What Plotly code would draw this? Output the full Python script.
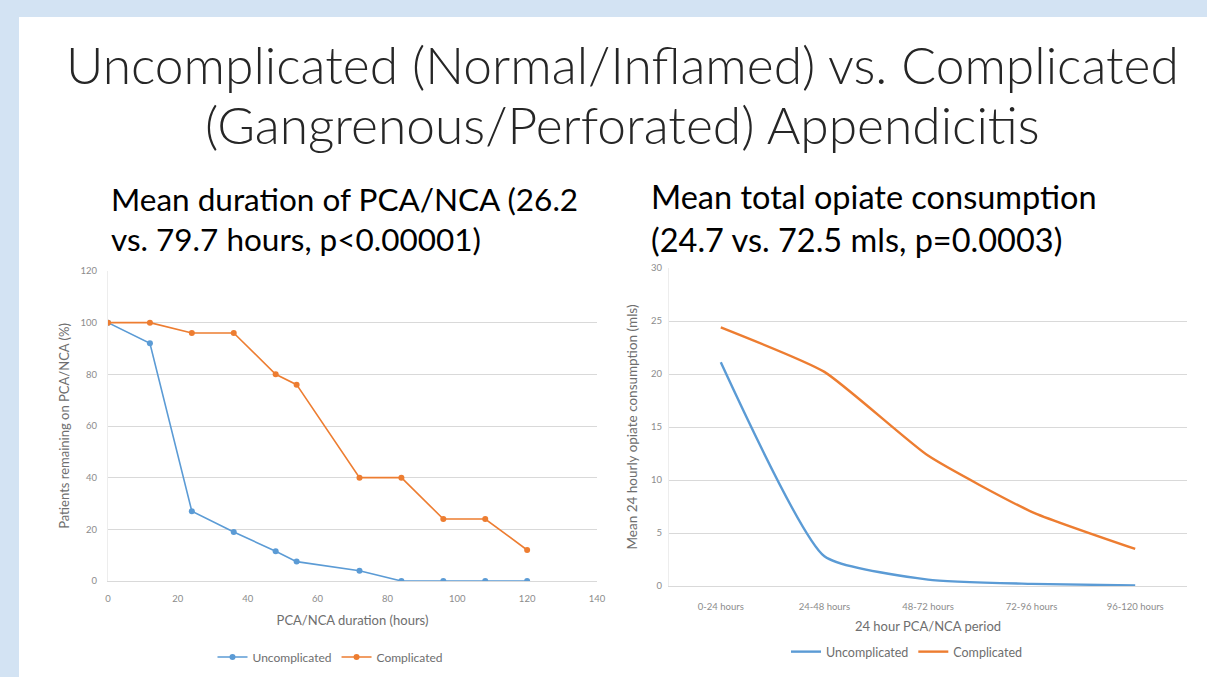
import plotly.graph_objects as go

# ---- data ----
hours = [0, 12, 24, 36, 48, 54, 72, 84, 96, 108, 120]
pca_uncomplicated = [100, 92, 27, 19, 11.5, 7.5, 4, 0, 0, 0, 0]
pca_complicated = [100, 100, 96, 96, 80, 76, 40, 40, 24, 24, 12]

periods = ["0-24 hours", "24-48 hours", "48-72 hours", "72-96 hours", "96-120 hours"]
opiate_uncomplicated = [21.1, 2.8, 0.6, 0.2, 0.05]
opiate_complicated = [24.4, 20.2, 12.3, 7.0, 3.5]

x1_ticks = [0, 20, 40, 60, 80, 100, 120, 140]
y1_ticks = [0, 20, 40, 60, 80, 100, 120]
y2_ticks = [0, 5, 10, 15, 20, 25, 30]

title_lines = ["Uncomplicated (Normal/Inflamed) vs. Complicated", "(Gangrenous/Perforated) Appendicitis"]
left_sub = ["Mean duration of PCA/NCA (26.2", "vs. 79.7 hours, p<0.00001)"]
right_sub = ["Mean total opiate consumption", "(24.7 vs. 72.5 mls, p=0.0003)"]

BLUE = "#5B9BD5"
ORANGE = "#ED7D31"
GRID = "#D9D9D9"
TICK = "#8C8C8C"
W, H = 1207, 677

fig = go.Figure()

fig.add_trace(go.Scatter(x=hours, y=pca_uncomplicated, name="Uncomplicated", mode="lines+markers",
                         line=dict(color=BLUE, width=1.6), marker=dict(size=6, symbol="circle", color=BLUE),
                         xaxis="x", yaxis="y", legend="legend"))
fig.add_trace(go.Scatter(x=hours, y=pca_complicated, name="Complicated", mode="lines+markers",
                         line=dict(color=ORANGE, width=1.6), marker=dict(size=6, symbol="circle", color=ORANGE),
                         xaxis="x", yaxis="y", legend="legend"))
fig.add_trace(go.Scatter(x=periods, y=opiate_uncomplicated, name="Uncomplicated", mode="lines",
                         line=dict(color=BLUE, width=2.4, shape="spline", smoothing=0.5),
                         xaxis="x2", yaxis="y2", legend="legend2"))
fig.add_trace(go.Scatter(x=periods, y=opiate_complicated, name="Complicated", mode="lines",
                         line=dict(color=ORANGE, width=2.4, shape="spline", smoothing=0.5),
                         xaxis="x2", yaxis="y2", legend="legend2"))

tickfont = dict(family="Lato, sans-serif", size=9.5, color=TICK)
titlefont = dict(family="Lato, sans-serif", size=13, color="#6E6E6E")


def text_ann(text, x, y, size, anchor="left", weight=400, color="#000000"):
    return dict(text=text, xref="paper", yref="paper", x=x / W, y=1 - y / H, xanchor=anchor,
                yanchor="middle", showarrow=False,
                font=dict(family="Lato, sans-serif", size=size, color=color, weight=weight))


annotations = [
    text_ann(title_lines[0], 622, 64, 51.5, "center", 300, "#262626"),
    text_ann(title_lines[1], 622, 124, 51.5, "center", 300, "#262626"),
    text_ann(left_sub[0], 109, 199, 31.5),
    text_ann(left_sub[1], 109, 239, 31.5),
    text_ann(right_sub[0], 649, 197, 32.5),
    text_ann(right_sub[1], 649, 239, 32.5),
]

fig.update_layout(
    width=W, height=H,
    margin=dict(l=0, r=0, t=0, b=0, pad=0, autoexpand=False),
    paper_bgcolor="#D3E3F3",
    plot_bgcolor="rgba(0,0,0,0)",
    showlegend=True,
    xaxis=dict(domain=[108 / W, 597 / W], anchor="y", range=[0, 140], tickvals=x1_ticks,
               showgrid=False, zeroline=False, showline=True, linecolor=GRID, linewidth=1,
               tickfont=tickfont, ticks="", ticklabelstandoff=9, automargin=False,
               title=dict(text="PCA/NCA duration (hours)", font=titlefont, standoff=12)),
    yaxis=dict(domain=[1 - 581 / H, 1 - 271 / H], anchor="x", range=[0, 120], tickvals=y1_ticks,
               showgrid=True, gridcolor=GRID, gridwidth=1, zeroline=False, showline=True,
               linecolor="#EDEDED", tickfont=tickfont, ticks="", ticklabelstandoff=8, automargin=False,
               title=dict(text="Patients remaining on PCA/NCA (%)", font=titlefont, standoff=8)),
    xaxis2=dict(domain=[669 / W, 1187 / W], anchor="y2", type="category", range=[-0.5, 4.5],
                showgrid=False, zeroline=False, showline=True, linecolor=GRID, linewidth=1,
                tickfont=tickfont, ticks="", ticklabelstandoff=12, automargin=False,
                title=dict(text="24 hour PCA/NCA period", font=titlefont, standoff=10)),
    yaxis2=dict(domain=[1 - 586 / H, 1 - 268 / H], anchor="x2", range=[0, 30], tickvals=y2_ticks,
                showgrid=True, gridcolor=GRID, gridwidth=1, zeroline=False, showline=True,
                linecolor="#EDEDED", tickfont=tickfont, ticks="", ticklabelstandoff=4, automargin=False,
                title=dict(text="Mean 24 hourly opiate consumption (mls)", font=dict(titlefont, size=13.5),
                           standoff=10)),
    legend=dict(orientation="h", x=330 / W, y=1 - 657 / H, xanchor="center", yanchor="middle",
                font=dict(family="Lato, sans-serif", size=12, color="#6E6E6E"),
                bgcolor="rgba(0,0,0,0)", itemwidth=30, tracegroupgap=0),
    legend2=dict(orientation="h", x=907 / W, y=1 - 652 / H, xanchor="center", yanchor="middle",
                 font=dict(family="Lato, sans-serif", size=12.5, color="#6E6E6E"),
                 bgcolor="rgba(0,0,0,0)", itemwidth=30, tracegroupgap=0),
    shapes=[dict(type="rect", xref="paper", yref="paper", x0=19 / W, x1=1.02, y0=-0.02, y1=1 - 17 / H,
                 fillcolor="white", line=dict(width=0), layer="below")],
    annotations=annotations,
)

fig.write_html("out.html", config={"displayModeBar": False},
               post_script="document.body.style.margin='0';document.body.style.padding='0';")
